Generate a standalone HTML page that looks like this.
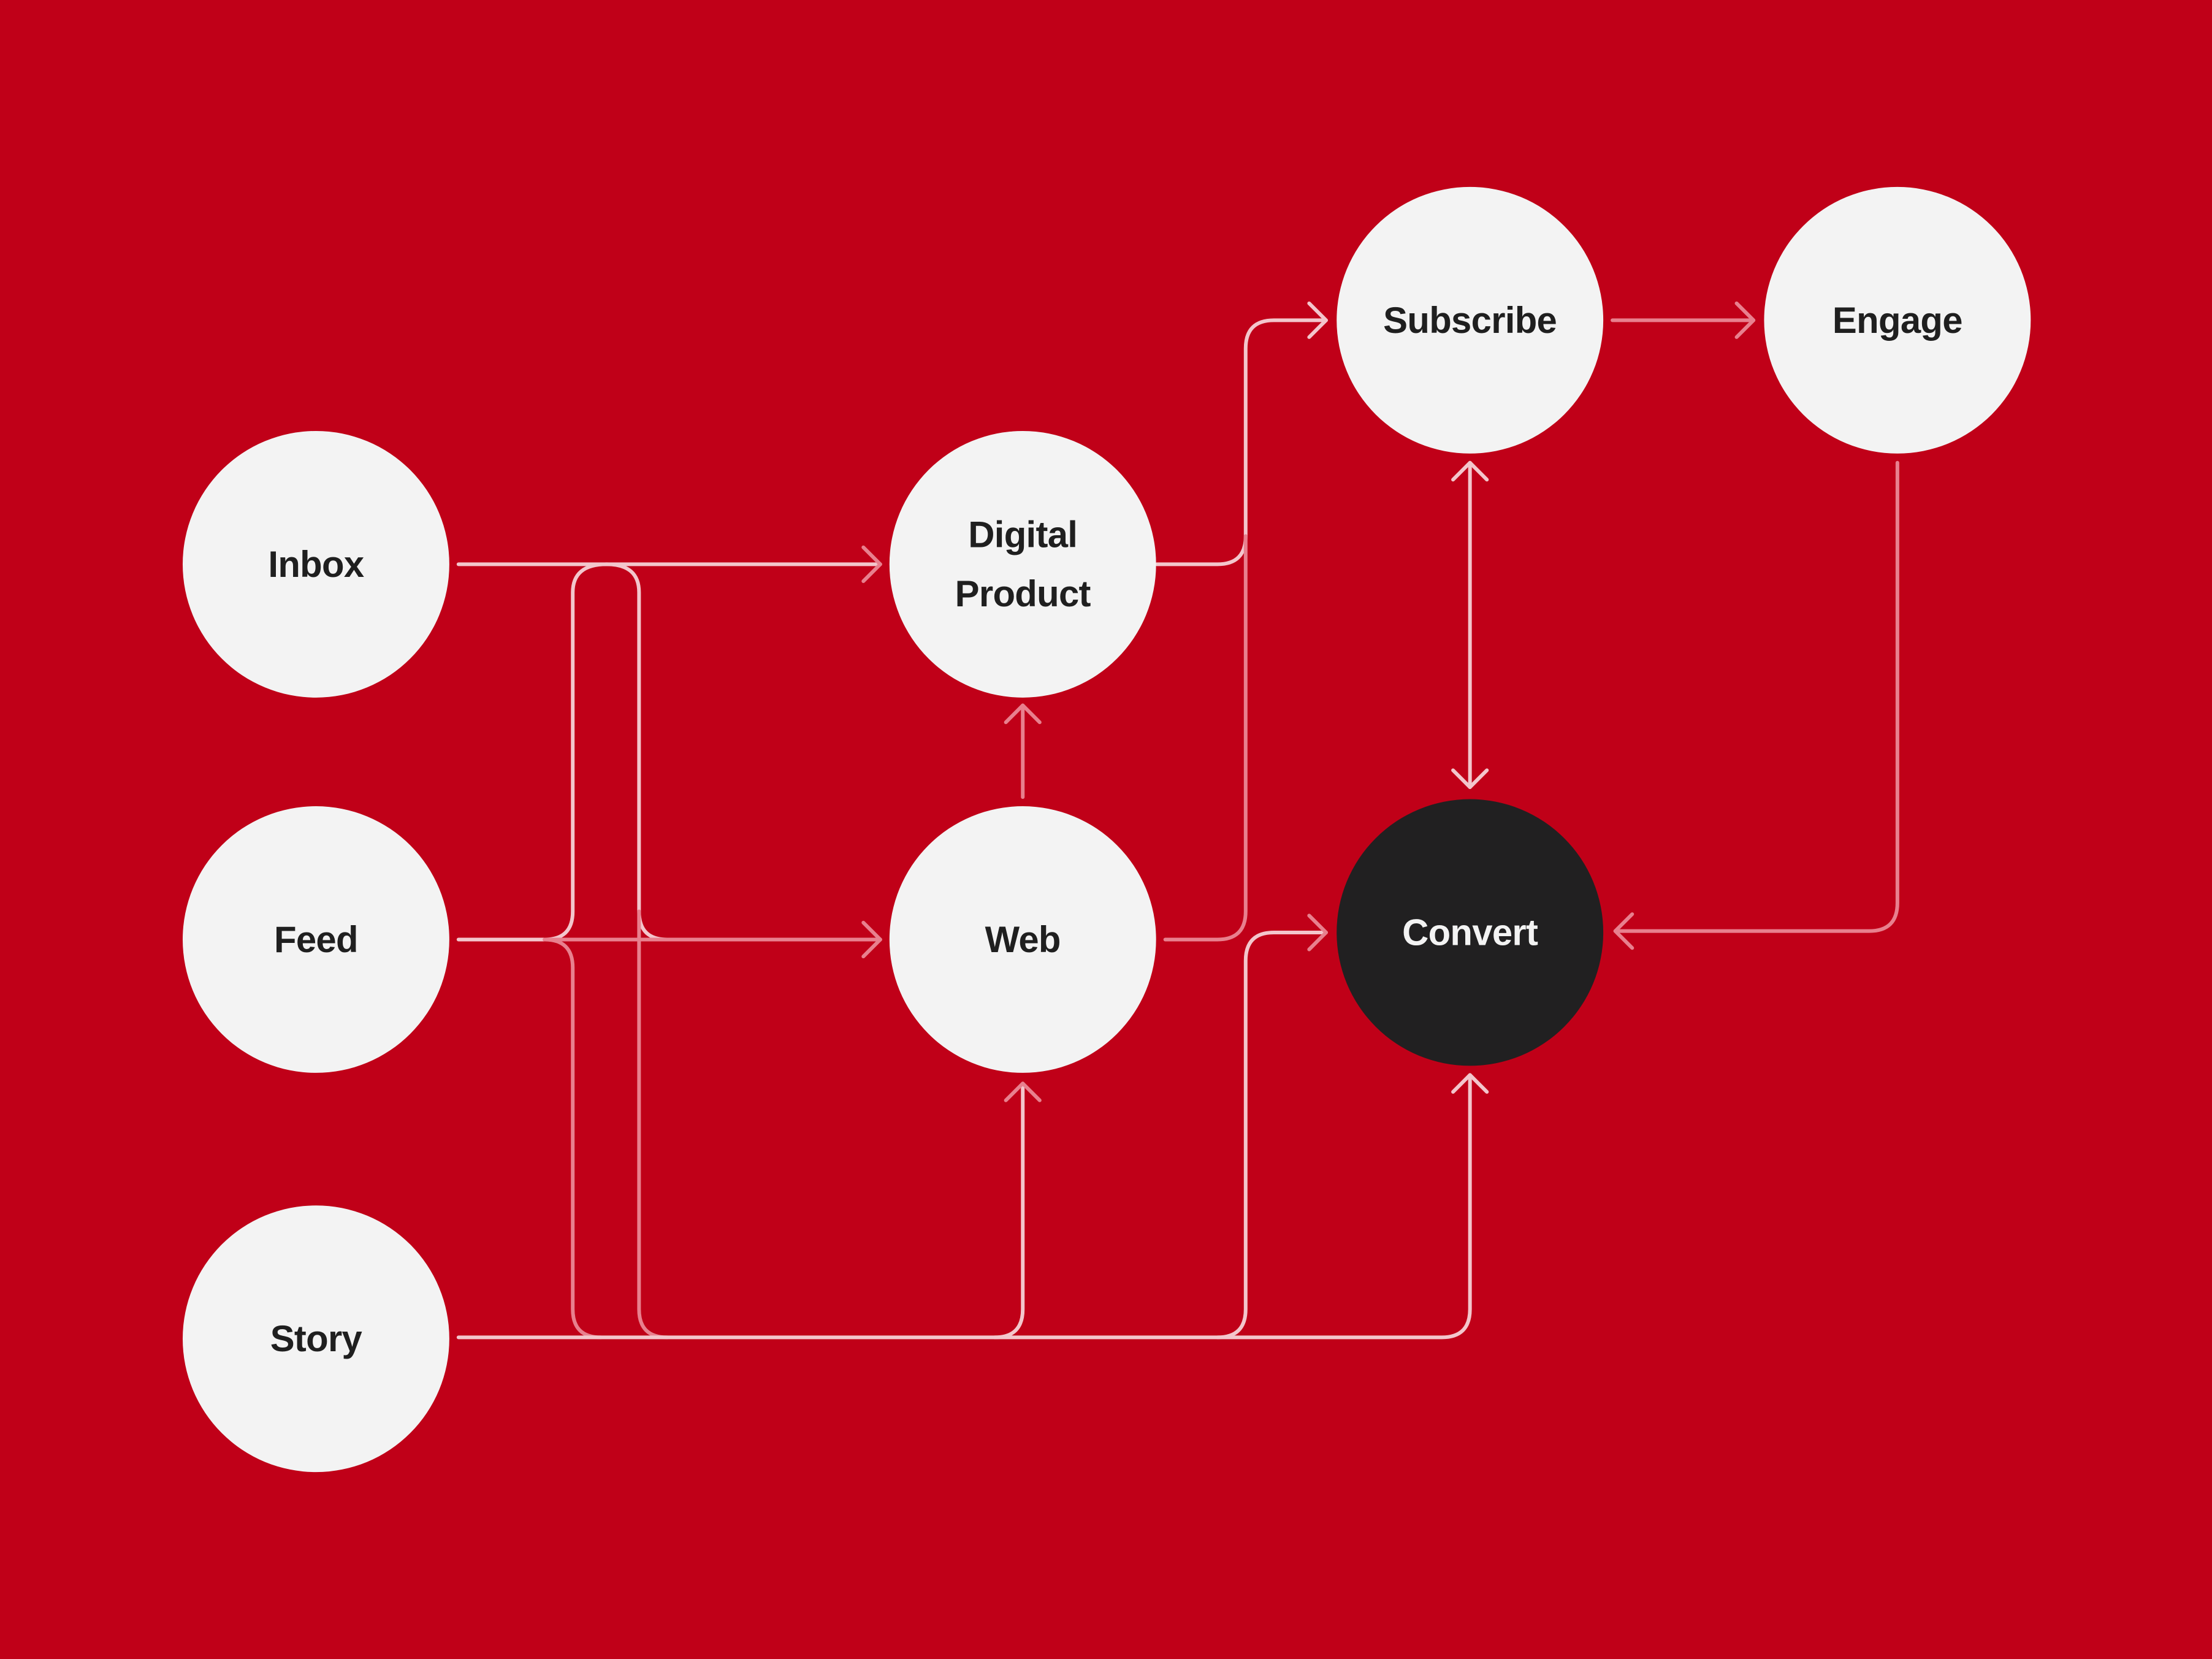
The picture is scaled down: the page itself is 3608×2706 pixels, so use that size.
<!DOCTYPE html>
<html><head><meta charset="utf-8"><style>
html,body{margin:0;padding:0;background:#c00018;}
svg{display:block}
text{font-family:"Liberation Sans",Arial,sans-serif;font-size:26px;font-weight:bold;text-anchor:middle;dominant-baseline:central;letter-spacing:-0.3px}
.l1{fill:none;stroke:#f3c6cc;stroke-width:2.6;stroke-linecap:round;stroke-linejoin:round}
.l2{fill:none;stroke:#e8808e;stroke-width:2.6;stroke-linecap:round;stroke-linejoin:round}
</style></head><body>
<svg width="3608" height="2706" viewBox="0 0 1568 1176" xmlns="http://www.w3.org/2000/svg">
<rect width="1568" height="1176" fill="#c00018"/>
<g>
<path class="l1" d="M325 400 H624"/>
<path class="l2" d="M612 388 L624 400 L612 412"/>
<path class="l1" d="M325 666 H386 Q406 666 406 646 V420 Q406 400 430 400 Q453 400 453 420 V646 Q453 666 473 666 H624"/>
<path class="l2" d="M386 666 H624"/>
<path class="l2" d="M612 654 L624 666 L612 678"/>
<path class="l2" d="M386 666 Q406 666 406 686 V928 Q406 948 426 948"/>
<path class="l2" d="M453 646 V928 Q453 948 473 948"/>
<path class="l1" d="M325 948 H1022 Q1042 948 1042 928 V762"/>
<path class="l1" d="M1030 774 L1042 762 L1054 774"/>
<path class="l1" d="M705 948 Q725 948 725 928 V768"/>
<path class="l2" d="M713 780 L725 768 L737 780"/>
<path class="l1" d="M820 400 H863 Q883 400 883 380 V247 Q883 227 903 227 H940"/>
<path class="l1" d="M928 215 L940 227 L928 239"/>
<path class="l2" d="M826 666 H863 Q883 666 883 646 V380"/>
<path class="l1" d="M863 948 Q883 948 883 928 V681 Q883 661 903 661 H940"/>
<path class="l2" d="M928 649 L940 661 L928 673"/>
<path class="l2" d="M725 565 V500"/>
<path class="l2" d="M713 512 L725 500 L737 512"/>
<path class="l1" d="M1042 328 V558"/>
<path class="l1" d="M1030 340 L1042 328 L1054 340"/>
<path class="l1" d="M1030 546 L1042 558 L1054 546"/>
<path class="l2" d="M1143 227 H1243"/>
<path class="l2" d="M1231 215 L1243 227 L1231 239"/>
<path class="l2" d="M1345 328 V640 Q1345 660 1325 660 H1145"/>
<path class="l2" d="M1157 648 L1145 660 L1157 672"/>
</g>
<g>
<circle cx="224" cy="400" r="94.5" fill="#f3f3f3"/>
<text x="224" y="400" fill="#1f1f1f">Inbox</text>
<circle cx="224" cy="666" r="94.5" fill="#f3f3f3"/>
<text x="224" y="666" fill="#1f1f1f">Feed</text>
<circle cx="224" cy="949" r="94.5" fill="#f3f3f3"/>
<text x="224" y="949" fill="#1f1f1f">Story</text>
<circle cx="725" cy="400" r="94.5" fill="#f3f3f3"/>
<text x="725" y="379" fill="#1f1f1f">Digital</text>
<text x="725" y="421" fill="#1f1f1f">Product</text>
<circle cx="725" cy="666" r="94.5" fill="#f3f3f3"/>
<text x="725" y="666" fill="#1f1f1f">Web</text>
<circle cx="1042" cy="227" r="94.5" fill="#f3f3f3"/>
<text x="1042" y="227" fill="#1f1f1f">Subscribe</text>
<circle cx="1345" cy="227" r="94.5" fill="#f3f3f3"/>
<text x="1345" y="227" fill="#1f1f1f">Engage</text>
<circle cx="1042" cy="661" r="94.5" fill="#212021"/>
<text x="1042" y="661" fill="#f3f3f3">Convert</text>
</g>
</svg>
</body></html>
